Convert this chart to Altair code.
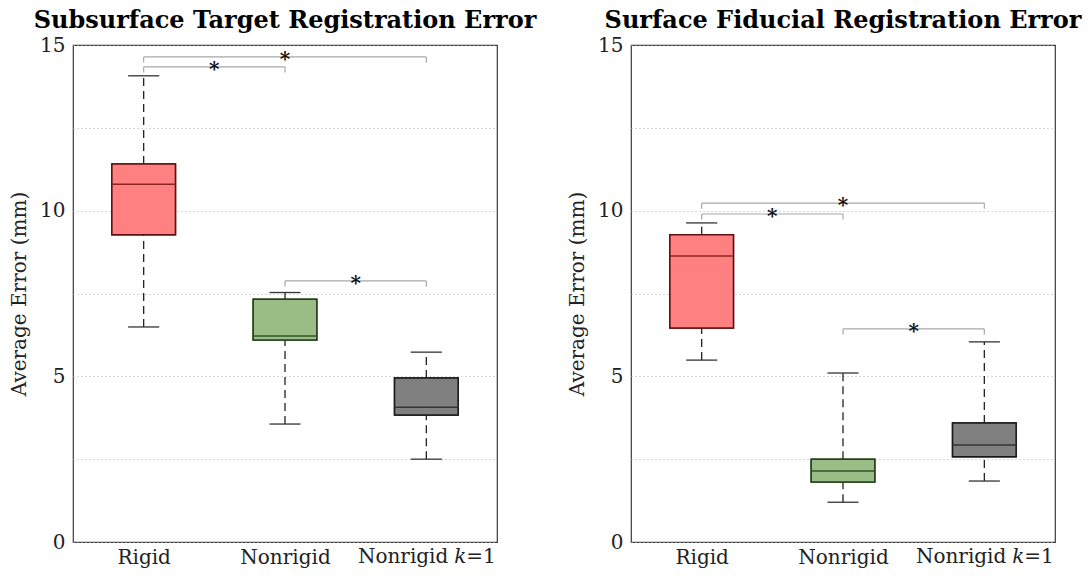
import altair as alt
import pandas as pd

# Groups along the horizontal axis
groups = ["Rigid", "Nonrigid", "Nonrigid k=1"]
positions = [1, 2, 3]
third_label_parts = ["Nonrigid", "k", "=1"]

box_fill = ["#ff8080", "#99bd85", "#808080"]
box_edge = ["#5e1010", "#26401c", "#181818"]
median_color = ["#8c2424", "#34522a", "#333333"]

# Subsurface target registration error (mm): five-number summaries
sub_lo = [6.49, 3.56, 2.50]
sub_q1 = [9.27, 6.10, 3.83]
sub_med = [10.80, 6.22, 4.07]
sub_q3 = [11.41, 7.33, 4.95]
sub_hi = [14.07, 7.53, 5.73]
# significant pairwise comparisons: from group, to group, bracket height
sub_sig_from = [1, 1, 2]
sub_sig_to = [2, 3, 3]
sub_sig_height = [14.34, 14.64, 7.88]

# Surface fiducial registration error (mm)
surf_lo = [5.49, 1.20, 1.84]
surf_q1 = [6.46, 1.81, 2.57]
surf_med = [8.63, 2.14, 2.93]
surf_q3 = [9.27, 2.50, 3.59]
surf_hi = [9.63, 5.10, 6.04]
surf_sig_from = [1, 1, 2]
surf_sig_to = [2, 3, 3]
surf_sig_height = [9.90, 10.23, 6.43]

y_grid_values = [0, 2.5, 5, 7.5, 10, 12.5, 15]

BOX_HALF = 0.225
CAP_HALF = 0.11
LEG = 0.17
SERIF = "DejaVu Serif"
TITLE_FONT = "DejaVu Serif"
LABEL_SIZE = 20
LABEL_PAD = 5


def panel(title, lo, q1, med, q3, hi, sig_from, sig_to, sig_height):
    df = pd.DataFrame({
        "group": groups, "pos": positions, "lo": lo, "q1": q1, "med": med,
        "q3": q3, "hi": hi, "fill": box_fill, "edge": box_edge, "mline": median_color,
    })
    df["left"] = df["pos"] - BOX_HALF
    df["right"] = df["pos"] + BOX_HALF
    df["capl"] = df["pos"] - CAP_HALF
    df["capr"] = df["pos"] + CAP_HALF

    sig = pd.DataFrame({"a": sig_from, "b": sig_to, "h": sig_height})
    sig["leg"] = sig["h"] - LEG
    sig["mid"] = (sig["a"] + sig["b"]) / 2
    sig["star"] = "*"

    xs = alt.Scale(domain=[0.5, 3.5], nice=False, zero=False)
    ys = alt.Scale(domain=[0, 15], nice=False, zero=False)

    label_expr = (
        f"datum.value == 1 ? '{groups[0]}' : datum.value == 2 ? '{groups[1]}' : ''"
    )
    xaxis = alt.Axis(
        values=positions, labelExpr=label_expr, grid=False, ticks=False, tickSize=0,
        domain=False, labelFont=SERIF, labelFontSize=LABEL_SIZE, labelColor="#222",
        labelPadding=LABEL_PAD, title=None,
    )
    yaxis = alt.Axis(
        values=y_grid_values, labelExpr="datum.value % 5 == 0 ? datum.label : ''",
        grid=True, gridDash=[1, 3], gridColor="#b0b0b0", gridWidth=1,
        ticks=False, domain=False, labelFont=SERIF, labelFontSize=LABEL_SIZE,
        labelColor="#222", labelPadding=8, title="Average Error (mm)",
        titleFont=SERIF, titleFontSize=LABEL_SIZE, titleFontWeight="normal",
        titleColor="#222", titlePadding=10,
    )

    base = alt.Chart(df)
    boxes = base.mark_rect(strokeWidth=1.5).encode(
        x=alt.X("left:Q", scale=xs, axis=xaxis),
        x2="right:Q",
        y=alt.Y("q1:Q", scale=ys, axis=yaxis),
        y2="q3:Q",
        fill=alt.Color("fill:N", scale=None),
        stroke=alt.Color("edge:N", scale=None),
    )
    medians = base.mark_rule(strokeWidth=1.5).encode(
        x="left:Q", x2="right:Q", y="med:Q", color=alt.Color("mline:N", scale=None)
    )
    whisk_up = base.mark_rule(strokeDash=[8, 5], color="#222", strokeWidth=1.3).encode(
        x="pos:Q", y="q3:Q", y2="hi:Q"
    )
    whisk_dn = base.mark_rule(strokeDash=[8, 5], color="#222", strokeWidth=1.3).encode(
        x="pos:Q", y="lo:Q", y2="q1:Q"
    )
    cap_up = base.mark_rule(color="#333", strokeWidth=1.3).encode(
        x="capl:Q", x2="capr:Q", y="hi:Q"
    )
    cap_dn = base.mark_rule(color="#333", strokeWidth=1.3).encode(
        x="capl:Q", x2="capr:Q", y="lo:Q"
    )

    sbase = alt.Chart(sig)
    br_h = sbase.mark_rule(color="#a8a8a8", strokeWidth=1.2).encode(
        x="a:Q", x2="b:Q", y="h:Q"
    )
    br_l = sbase.mark_rule(color="#a8a8a8", strokeWidth=1.2).encode(
        x="a:Q", y="leg:Q", y2="h:Q"
    )
    br_r = sbase.mark_rule(color="#a8a8a8", strokeWidth=1.2).encode(
        x="b:Q", y="leg:Q", y2="h:Q"
    )
    stars = sbase.mark_text(
        font=TITLE_FONT, fontSize=20, fontWeight="bold", baseline="alphabetic", dy=9,
        color="#111",
    ).encode(x="mid:Q", y="h:Q", text="star:N")

    # third category label with an italic k
    lab = pd.DataFrame({"pos": [positions[2]], "y": [0],
                        "p0": [third_label_parts[0]], "p1": [third_label_parts[1]],
                        "p2": [third_label_parts[2]]})
    lbase = alt.Chart(lab)
    common = dict(font=SERIF, fontSize=LABEL_SIZE, baseline="top", dy=LABEL_PAD, color="#222")
    t0 = lbase.mark_text(align="right", dx=22, **common).encode(x="pos:Q", y="y:Q", text="p0:N")
    t1 = lbase.mark_text(align="left", dx=28, fontStyle="italic", **common).encode(
        x="pos:Q", y="y:Q", text="p1:N")
    t2 = lbase.mark_text(align="left", dx=40, **common).encode(x="pos:Q", y="y:Q", text="p2:N")

    return alt.layer(
        boxes, whisk_up, whisk_dn, cap_up, cap_dn, boxes, medians,
        br_h, br_l, br_r, stars, t0, t1, t2,
    ).properties(
        width=424, height=497,
        view=alt.ViewBackground(stroke="#3a3a3a", strokeWidth=1.2),
        title=alt.TitleParams(
            title, font=TITLE_FONT, fontSize=24, fontWeight="bold", color="black",
            anchor="middle", offset=2,
        ),
    )


left = panel("Subsurface Target Registration Error", sub_lo, sub_q1, sub_med, sub_q3,
             sub_hi, sub_sig_from, sub_sig_to, sub_sig_height)
right = panel("Surface Fiducial Registration Error", surf_lo, surf_q1, surf_med, surf_q3,
              surf_hi, surf_sig_from, surf_sig_to, surf_sig_height)

chart = alt.hconcat(left, right, spacing=134, bounds="flush").properties(
    padding={"left": 8, "top": 8, "right": 0, "bottom": 0}
).configure(background="white")

chart.save("out.html", embed_options={"renderer": "svg", "actions": False})
